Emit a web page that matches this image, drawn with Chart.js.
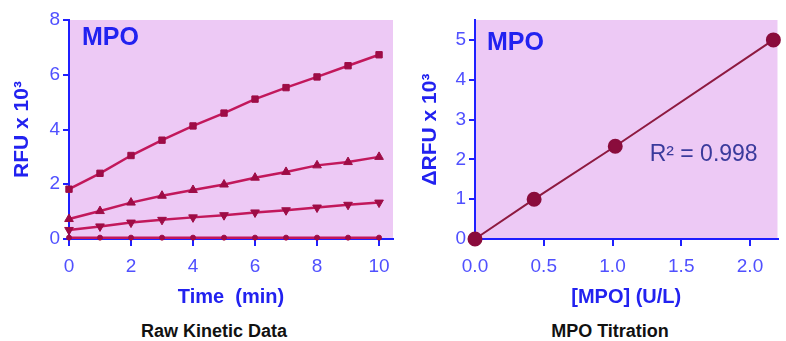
<!DOCTYPE html>
<html>
<head>
<meta charset="utf-8">
<script src="https://cdn.jsdelivr.net/npm/chart.js@4.4.1/dist/chart.umd.min.js"></script>
<style>
  html, body { margin: 0; padding: 0; background: #fff; }
  body { width: 786px; height: 341px; position: relative; overflow: hidden; }
  .box { position: absolute; top: 0; height: 310px; }
  #leftBox { left: 0; width: 400px; }
  #rightBox { left: 400px; width: 386px; }
  .caption { position: absolute; top: 321px; font-family: "Liberation Sans Narrow", "Liberation Sans", Arial, sans-serif;
    font-stretch: condensed; font-weight: bold; font-size: 18px; color: #111; text-align: center; width: 200px; }
</style>
</head>
<body>
<div class="box" id="leftBox"><canvas id="kineticChart"></canvas></div>
<div class="box" id="rightBox"><canvas id="titrationChart"></canvas></div>
<div class="caption" style="left:114px">Raw Kinetic Data</div>
<div class="caption" style="left:510px">MPO Titration</div>
<script>
// kinetic data (RFU x 10^3)
const timeMin = [0, 1, 2, 3, 4, 5, 6, 7, 8, 9, 10];
const rfuHigh = [1.82, 2.40, 3.05, 3.61, 4.13, 4.60, 5.11, 5.53, 5.92, 6.33, 6.73];
const rfuMid = [0.73, 1.02, 1.33, 1.58, 1.79, 1.99, 2.24, 2.45, 2.69, 2.81, 3.00];
const rfuLow = [0.33, 0.46, 0.60, 0.70, 0.79, 0.87, 0.97, 1.05, 1.15, 1.25, 1.33];
const rfuBlank = [0.05, 0.05, 0.05, 0.05, 0.05, 0.05, 0.05, 0.05, 0.05, 0.05, 0.05];
const timeTicks = [0, 2, 4, 6, 8, 10];
const rfuTicks = [0, 2, 4, 6, 8];

// titration data
const mpoUnits = [0, 0.43, 1.02, 2.17];
const deltaRfu = [0, 1.0, 2.33, 5.0];
const mpoTicks = [0, 0.5, 1.0, 1.5, 2.0];
const deltaTicks = [0, 1, 2, 3, 4, 5];
const rSquared = "R² = 0.998";

const AXIS = '#1f1fff';
const TICK = '#5050ff';
const TITLE = '#2222f0';
const PINK = '#edc9f5';
const FONT = '"Liberation Sans", Arial, sans-serif';
Chart.defaults.font.family = FONT;

const toPoints = (xs, ys) => xs.map((x, i) => ({ x: x, y: ys[i] }));

const plotBg = {
    id: 'plotBg',
    beforeDraw(chart) {
        const a = chart.chartArea;
        const ctx = chart.ctx;
        ctx.save();
        ctx.fillStyle = PINK;
        ctx.fillRect(a.left, a.top, a.right - a.left, a.bottom - a.top);
        ctx.restore();
    }
};

const panelLabel = {
    id: 'panelLabel',
    afterDraw(chart, args, opts) {
        const a = chart.chartArea;
        const ctx = chart.ctx;
        ctx.save();
        ctx.font = 'bold 25px ' + FONT;
        ctx.fillStyle = TITLE;
        ctx.textBaseline = 'middle';
        ctx.fillText('MPO', a.left + opts.dx, a.top + opts.dy);
        if (opts.note) {
            ctx.font = '23px ' + FONT;
            ctx.fillStyle = '#3a3a9c';
            ctx.fillText(opts.note, chart.scales.x.getPixelForValue(opts.nx), chart.scales.y.getPixelForValue(opts.ny));
        }
        ctx.restore();
    }
};

function axisX(min, max, ticks, fmt, title) {
    return {
        type: 'linear', min: min, max: max,
        afterBuildTicks: s => { s.ticks = ticks.map(v => ({ value: v })); },
        afterFit: s => { s.height = 71; },
        border: { color: AXIS, width: 2 },
        grid: { drawOnChartArea: false, color: AXIS, lineWidth: 2, tickLength: 7 },
        ticks: { color: TICK, font: { size: 19 }, padding: 9, maxRotation: 0, callback: fmt },
        title: { display: true, text: title, color: TITLE, font: { size: 20, weight: 'bold' }, padding: { top: 0, bottom: 1 } }
    };
}

function axisY(min, max, ticks, width, pad, title) {
    return {
        type: 'linear', min: min, max: max,
        afterBuildTicks: s => { s.ticks = ticks.map(v => ({ value: v })); },
        afterFit: s => { s.width = width; },
        border: { color: AXIS, width: 2 },
        grid: { drawOnChartArea: false, color: AXIS, lineWidth: 2, tickLength: 6 },
        ticks: { color: TICK, font: { size: 19 }, padding: 3, callback: v => String(v) },
        title: { display: true, text: title, color: TITLE, font: { size: 21, weight: 'bold' }, padding: { top: pad, bottom: pad } }
    };
}

const LINE = '#c2185b';
const MARK = '#9e0c46';
function series(ys, style, radius, rotation) {
    return {
        data: toPoints(timeMin, ys),
        borderColor: LINE, borderWidth: 2.5,
        pointStyle: style, pointRadius: radius, pointRotation: rotation || 0,
        pointBackgroundColor: MARK, pointBorderColor: MARK, pointBorderWidth: 1,
        clip: false, tension: 0
    };
}

new Chart(document.getElementById('kineticChart'), {
    type: 'line',
    data: {
        datasets: [
            series(rfuHigh, 'rect', 4.5),
            series(rfuMid, 'triangle', 5),
            series(rfuLow, 'triangle', 5, 180),
            series(rfuBlank, 'circle', 2.5)
        ]
    },
    options: {
        responsive: true, maintainAspectRatio: false, animation: false,
        layout: { padding: { top: 20, right: 7, left: 0, bottom: 0 } },
        plugins: { legend: { display: false }, tooltip: { enabled: false }, panelLabel: { dx: 13, dy: 18 } },
        scales: {
            x: axisX(0, 10.45, timeTicks, v => String(v), 'Time  (min)'),
            y: axisY(0, 8, rfuTicks, 69, 10, 'RFU x 10³')
        }
    },
    plugins: [plotBg, panelLabel]
});

new Chart(document.getElementById('titrationChart'), {
    type: 'line',
    data: {
        datasets: [{
            data: toPoints(mpoUnits, deltaRfu),
            borderColor: '#8e1a40', borderWidth: 2,
            pointStyle: 'circle', pointRadius: 6.5,
            pointBackgroundColor: '#8a0c3c', pointBorderColor: '#8a0c3c',
            clip: false, tension: 0
        }]
    },
    options: {
        responsive: true, maintainAspectRatio: false, animation: false,
        layout: { padding: { top: 20, right: 0, left: 0, bottom: 0 } },
        plugins: {
            legend: { display: false }, tooltip: { enabled: false },
            panelLabel: { dx: 12, dy: 23, note: rSquared, nx: 1.27, ny: 2.12 }
        },
        scales: {
            x: axisX(0, 2.2, mpoTicks, v => Number(v).toFixed(1), '[MPO] (U/L)'),
            y: axisY(0, 5.5, deltaTicks, 75, 18, 'ΔRFU x 10³')
        }
    },
    plugins: [plotBg, panelLabel]
});
</script>
</body>
</html>
